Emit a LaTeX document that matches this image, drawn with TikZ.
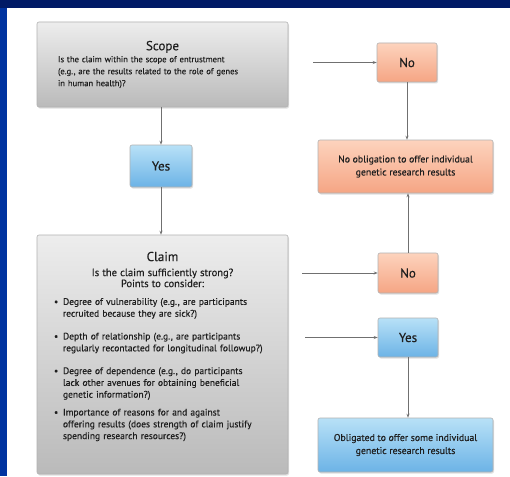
\documentclass[tikz,border=0pt]{standalone}
\usepackage{fontspec}
\setmainfont{PT Sans}[FakeBold=0.35]
\usetikzlibrary{arrows.meta,shadows}
\definecolor{navy}{HTML}{001A66}
\definecolor{frameblue}{HTML}{0033A0}
\definecolor{greytop}{HTML}{EDEDED}
\definecolor{greybot}{HTML}{BABABA}
\definecolor{bluetop}{HTML}{B8E1F7}
\definecolor{bluebot}{HTML}{6CB3E6}
\definecolor{salmtop}{HTML}{FDD3BD}
\definecolor{salmbot}{HTML}{F5A584}
\definecolor{arrgrey}{HTML}{707070}
\definecolor{txt}{HTML}{1E1E1E}
\newcommand{\bul}{\hangindent=9pt\hangafter=1\makebox[9pt][l]{\textbullet}}
\begin{document}
\begin{tikzpicture} [x=1pt,y=-1pt,
  mybox/.style={rectangle, rounded corners=2pt, draw=gray!60, line width=0.6pt, text=txt, inner sep=0pt,
    drop shadow={opacity=0.25,shadow xshift=1pt,shadow yshift=-1.5pt}},
  mygrey/.style={mybox, top color=greytop, bottom color=greybot, minimum width=251pt, inner xsep=21pt, text width=209pt},
  myyes/.style={mybox, top color=bluetop, bottom color=bluebot, align=center, font=\fontsize{9.8}{13}\selectfont},
  myno/.style={mybox, top color=salmtop, bottom color=salmbot, align=center, font=\fontsize{9.8}{13}\selectfont},
  mybig/.style={font=\fontsize{13}{15}\selectfont},
  myarr/.style={draw=arrgrey, line width=0.8pt, -{Stealth[length=4pt,width=3pt]}}]
  % frame
  \fill[frameblue] (0,0) rectangle (510,476);
  \fill[navy] (0,0) rectangle (510,8);
  \fill[white] (7,8) rectangle (510,476);

  \node[mygrey, minimum height=85pt, font=\fontsize{8.6}{12}\selectfont] (scope) at (162.5,64.5) {{\centering\fontsize{13}{15}\selectfont Scope\par}\raggedright
    Is the claim within the scope of entrustment\\(e.g., are the results related to the role of genes\\in human health)?};
  \node[myyes, mybig, minimum width=62pt, minimum height=42pt] (yes) at (161,166) {Yes};
  \node[mygrey, minimum height=239pt, inner xsep=17pt, text width=217pt, font=\fontsize{9.5}{11.8}\selectfont] (claim) at (162.5,354.5) {{\centering\fontsize{13}{15}\selectfont Claim\par\vspace{4pt}
    \fontsize{10.5}{11}\selectfont Is the claim sufficiently strong?\par Points to consider:\par}
    \vspace{6pt}\raggedright
    \bul Degree of vulnerability (e.g., are participants\newline recruited because they are sick?)\par\vspace{11pt}
    \bul Depth of relationship (e.g., are participants\newline regularly recontacted for longitudinal followup?)\par\vspace{11pt}
    \bul Degree of dependence (e.g., do participants\newline lack other avenues for obtaining beneficial\newline genetic information?)\par\vspace{6pt}
    \bul Importance of reasons for and against\newline offering results (does strength of claim justify\newline spending research resources?)\par\vspace*{16pt}};

  \node[myno, mybig, minimum width=60pt, minimum height=39pt] (no) at (407,62.5) {No};
  \node[myno, minimum width=175pt, minimum height=53pt] (noobl) at (405.5,166.5) {No obligation to offer individual\\genetic research results};
  \node[myno, mybig, minimum width=60pt, minimum height=40pt] (noclaim) at (408,273) {No};
  \node[myyes, mybig, minimum width=60pt, minimum height=39pt] (yesclaim) at (408,337.5) {Yes};
  \node[myyes, minimum width=175pt, minimum height=54pt] (obl) at (405.5,445) {Obligated to offer some individual\\genetic research results};

    \draw[myarr] (scope.south -| yes) -- (yes.north);
    \draw[myarr] (yes) -- (claim.north -| yes);
    \draw[myarr, shorten <=25pt] (scope.east |- no) -- (no.west);
    \draw[myarr] (no) -- (noobl.north -| no);
    \draw[myarr] (noclaim) -- (noobl.south -| noclaim);
    \draw[myarr, shorten <=14pt] (claim.east |- noclaim) -- (noclaim.west);
    \draw[myarr, shorten <=17pt] (claim.east |- yesclaim) -- (yesclaim.west);
    \draw[myarr] (yesclaim) -- (obl.north -| yesclaim);

\end{tikzpicture}
\end{document}
